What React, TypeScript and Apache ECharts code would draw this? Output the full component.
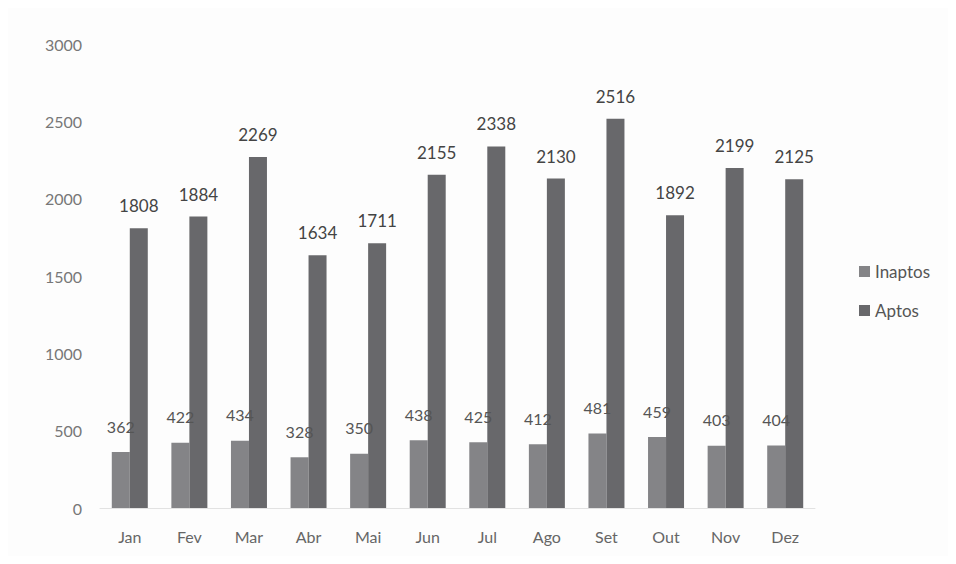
import React, { useEffect, useRef } from "react";
import * as echarts from "echarts";

const months = ["Jan", "Fev", "Mar", "Abr", "Mai", "Jun", "Jul", "Ago", "Set", "Out", "Nov", "Dez"];
const inaptos = [362, 422, 434, 328, 350, 438, 425, 412, 481, 459, 403, 404];
const aptos = [1808, 1884, 2269, 1634, 1711, 2155, 2338, 2130, 2516, 1892, 2199, 2125];

export default function App() {
  const ref = useRef<HTMLDivElement>(null);
  useEffect(() => {
    if (!ref.current) return;
    const chart = echarts.init(ref.current, undefined, { renderer: "svg" });
    const font = "Lato, 'Open Sans', sans-serif";
    chart.setOption({
      animation: false,
      backgroundColor: "#fdfdfd",
      textStyle: { fontFamily: font },
      grid: { left: 92, right: 133, top: 36, bottom: 48 },
      legend: {
        orient: "vertical",
        left: 846,
        top: 250,
        itemWidth: 11,
        itemHeight: 11,
        itemGap: 22,
        icon: "rect",
        textStyle: { fontSize: 17, color: "#555", fontFamily: font },
        data: ["Inaptos", "Aptos"],
      },
      xAxis: {
        type: "category",
        data: months,
        axisTick: { show: false },
        axisLine: { show: true, lineStyle: { color: "#e2e2e2" } },
        axisLabel: { fontSize: 16, color: "#666", margin: 20, fontFamily: font },
      },
      yAxis: {
        type: "value",
        min: 0,
        max: 3000,
        interval: 500,
        splitLine: { show: false },
        axisLine: { show: false },
        axisTick: { show: false },
        axisLabel: {
          fontSize: 16,
          color: "#777",
          margin: 18,
          fontFamily: font,
          formatter: (v: number) => String(v),
        },
      },
      series: [
        {
          name: "Inaptos",
          type: "bar",
          data: inaptos,
          barWidth: 18,
          barGap: "0%",
          itemStyle: { color: "#848487" },
          label: { show: true, position: "top", distance: 18, fontSize: 16, color: "#555", fontFamily: font },
        },
        {
          name: "Aptos",
          type: "bar",
          data: aptos,
          barWidth: 18,
          itemStyle: { color: "#68686b" },
          label: { show: true, position: "top", distance: 14, fontSize: 17, color: "#444", fontFamily: font },
        },
      ],
    });
    return () => chart.dispose();
  }, []);
  return <div ref={ref} style={{ width: 940, height: 548 }} />;
}
